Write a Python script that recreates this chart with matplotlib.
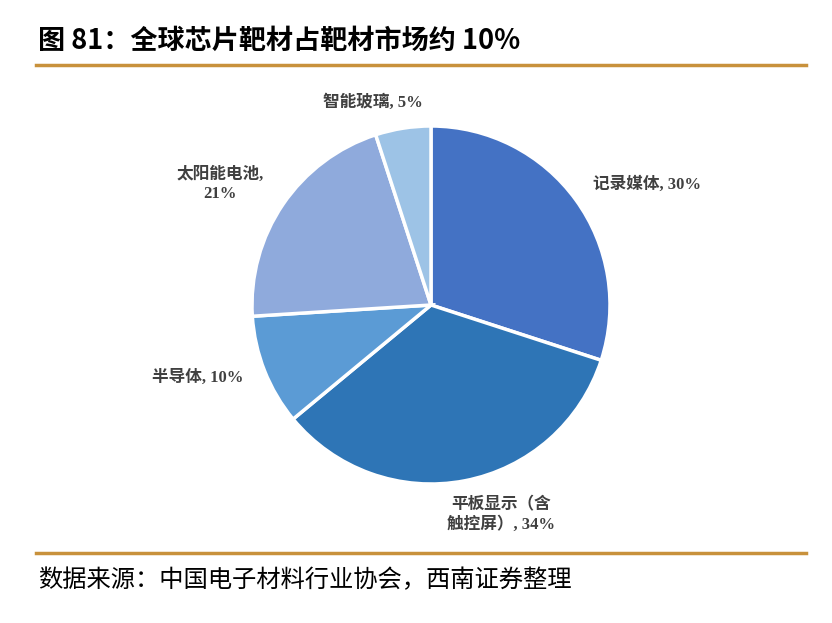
import matplotlib
matplotlib.use('Agg')
import matplotlib.pyplot as plt
from matplotlib.lines import Line2D

plt.rcParams['font.family'] = ['Liberation Serif', 'Noto Sans CJK SC', 'DejaVu Sans']

# data
categories = ['记录媒体', '平板显示（含触控屏）', '半导体', '太阳能电池', '智能玻璃']
shares = [30, 34, 10, 21, 5]
label_texts = ['记录媒体, 30%', '平板显示（含\n触控屏）, 34%', '半导体, 10%',
               '太阳能电池,\n21%', '智能玻璃, 5%']
colors = ['#4472C4', '#2E75B6', '#5B9BD5', '#8FAADC', '#9DC3E6']

W, H = 832, 623
fig = plt.figure(figsize=(W / 100, H / 100), dpi=100)

# pie axes: centre (431, 305) px, radius 179 px
cx, cy, r = 431, 305, 179
ax = fig.add_axes([(cx - r) / W, (H - cy - r) / H, 2 * r / W, 2 * r / H])
wedges, _ = ax.pie(shares, colors=colors, startangle=90, counterclock=False,
                   radius=1, wedgeprops=dict(edgecolor='white', linewidth=2.5))
ax.set_xlim(-1, 1)
ax.set_ylim(-1, 1)
ax.set_aspect('equal')
ax.axis('off')

# label positions (pixel centres in the picture)
label_px = [(647, 185), (501, 515), (198, 378), (220, 184), (373, 103)]
for txt, (px, py) in zip(label_texts, label_px):
    ax.text((px - cx) / r, (cy - py) / r, txt, ha='center', va='center',
            fontsize=12, fontweight='bold', color='#404040',
            multialignment='center', linespacing=1.25, clip_on=False)

# title
fig.text(38 / W, 1 - 41 / H, '图 81：全球芯片靶材占靶材市场约 10%',
         family=['Noto Sans CJK SC', 'DejaVu Sans'], fontweight='bold',
         fontsize=19.5, color='black', ha='left', va='center')

# gold rules
gold = '#C8913C'
fig.add_artist(Line2D([36 / W, 806 / W], [1 - 65 / H, 1 - 65 / H], color=gold, linewidth=2.5))
fig.add_artist(Line2D([36 / W, 806 / W], [1 - 553 / H, 1 - 553 / H], color=gold, linewidth=2.5))

# source
fig.text(38 / W, 1 - 580 / H, '数据来源：中国电子材料行业协会，西南证券整理',
         family=['Noto Sans CJK SC', 'DejaVu Sans'], fontstyle='italic',
         fontsize=17.5, color='black', ha='left', va='center')

fig.savefig('out.png', dpi=100)
